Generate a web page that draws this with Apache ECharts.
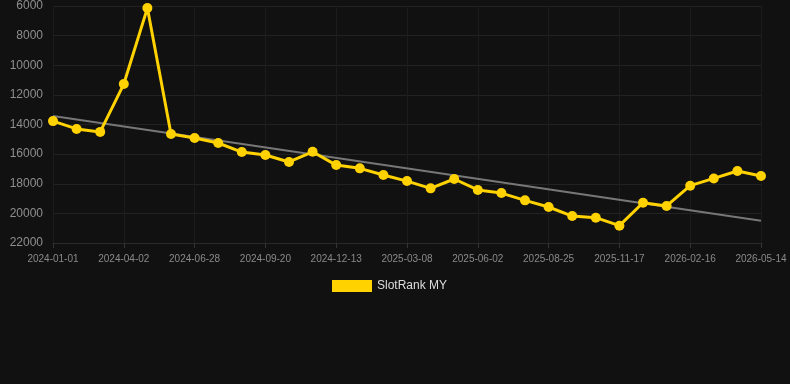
<!DOCTYPE html>
<html><head><meta charset="utf-8">
<script src="https://cdn.jsdelivr.net/npm/echarts@6/dist/echarts.min.js"></script>
<style>html,body{margin:0;padding:0;background:#111111;}#c{width:790px;height:384px;}</style>
</head><body><div id="c"></div>
<script>
var categories = ['2024-01-01','2024-01-31','2024-03-01','2024-04-02','2024-05-01','2024-05-30','2024-06-28','2024-07-26','2024-08-23','2024-09-20','2024-10-18','2024-11-15','2024-12-13','2025-01-10','2025-02-08','2025-03-08','2025-04-05','2025-05-04','2025-06-02','2025-06-30','2025-07-28','2025-08-25','2025-09-22','2025-10-20','2025-11-17','2025-12-18','2026-01-17','2026-02-16','2026-03-15','2026-04-14','2026-05-14'];
var rankValues = [13770,14300,14500,11270,6140,14640,14910,15250,15860,16060,16530,15840,16740,16960,17410,17820,18310,17680,18420,18630,19120,19570,20180,20290,20830,19280,19500,18130,17640,17140,17480];
var trendStart = 13430, trendEnd = 20500;
var yTicks = {min: 6000, max: 22000, interval: 2000};
var trendValues = categories.map(function(c, i){ return i === 0 ? trendStart : (i === categories.length - 1 ? trendEnd : null); });

var chart = echarts.init(document.getElementById('c'), null, {renderer: 'canvas'});
chart.setOption({
  backgroundColor: '#111111',
  animation: false,
  grid: {left: 53, right: 29, top: 6, bottom: 141, containLabel: false},
  legend: {
    bottom: 87, left: 327,
    itemWidth: 40, itemHeight: 12, itemGap: 10,
    textStyle: {color: '#dddddd', fontSize: 12, fontFamily: 'Arial, Liberation Sans, sans-serif'},
    data: [{name: 'SlotRank MY', icon: 'rect'}]
  },
  xAxis: {
    type: 'category', data: categories, boundaryGap: false,
    axisLine: {show: true, lineStyle: {color: '#2a2a2a'}},
    axisTick: {show: true, interval: 2, lineStyle: {color: '#333'}},
    axisLabel: {interval: 2, color: '#8a8a8a', fontSize: 10, margin: 11, fontFamily: 'Arial, Liberation Sans, sans-serif'},
    splitLine: {show: true, interval: 2, lineStyle: {color: '#1c1c1c'}}
  },
  yAxis: {
    type: 'value', inverse: true, min: yTicks.min, max: yTicks.max, interval: yTicks.interval,
    axisLine: {show: false}, axisTick: {show: false},
    axisLabel: {color: '#8f8f8f', fontSize: 12, margin: 10, fontFamily: 'Arial, Liberation Sans, sans-serif',
      formatter: function(v){ return String(v); }},
    splitLine: {lineStyle: {color: '#222222'}}
  },
  series: [
    {
      name: 'SlotRank MY', type: 'line', data: rankValues,
      color: '#FFD200',
      lineStyle: {width: 3, color: '#FFD200'},
      itemStyle: {color: '#FFD200'},
      symbol: 'circle', symbolSize: 10, z: 3
    },
    {
      name: 'trend', type: 'line', data: trendValues, connectNulls: true,
      lineStyle: {width: 2, color: '#777777'}, itemStyle: {color: '#777777'},
      symbol: 'none', z: 2
    }
  ]
});
</script></body></html>
